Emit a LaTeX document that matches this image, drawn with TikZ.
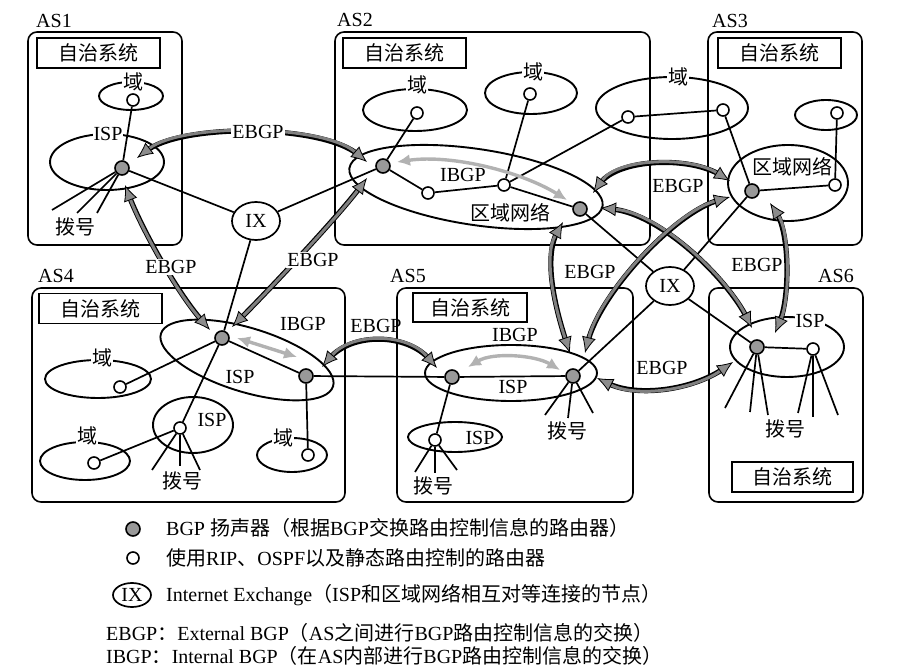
\documentclass[tikz,border=0pt]{standalone}
\usepackage{fontspec}
\setmainfont{Liberation Serif}
\newfontfamily\cjk{Noto Sans CJK SC}
\usetikzlibrary{arrows.meta,shapes.geometric,calc}
\newcommand{\zh}[1]{{\cjk #1}}
\tikzset{
  ebtip/.tip={Latex[length=16pt,width=14pt,color=black,fill=black!45,line width=0.8pt]},
  ibtip/.tip={Latex[length=13pt,width=12pt]}
}
\begin{document}
\begin{tikzpicture}[x=1pt,y=-1pt, font=\fontsize{20}{22}\selectfont,
  asbox/.style={line width=1.6pt, rounded corners=9pt},
  hdr/.style={draw, line width=1.5pt, minimum width=123pt, minimum height=30pt, inner sep=0pt, font=\fontsize{20}{22}\selectfont\cjk},
  ell/.style={line width=1.9pt},
  lbl/.style={fill=white, inner sep=1pt},
  txt/.style={inner sep=0pt},
  rt/.style={circle, draw, fill=white, line width=1.6pt, minimum size=12pt, inner sep=0pt},
  bgp/.style={circle, draw, fill=black!40, line width=1.6pt, minimum size=14pt, inner sep=0pt},
  ix/.style={ellipse, draw, fill=white, line width=1.7pt, minimum width=48pt, minimum height=38pt, inner sep=0pt},
  conn/.style={line width=1.7pt},
  ebgp/.style={draw=black!50, line width=3pt, ebtip-ebtip,
     preaction={draw=black, line width=5.2pt, arrows=-, shorten <=11pt, shorten >=11pt}},
  ibgp/.style={draw=black!30, line width=3.4pt, ibtip-ibtip}
]
\useasboundingbox (0,0) rectangle (922,671);

% AS boxes
\draw[asbox] (28,32) rectangle (182,245);
\draw[asbox] (335,32) rectangle (650,245);
\draw[asbox] (708,32) rectangle (862,245);
\draw[asbox] (32,288) rectangle (345,502);
\draw[asbox] (397,288) rectangle (633,502);
\draw[asbox] (709,288) rectangle (863,502);

% AS labels
\node[txt] (as1) at (54,21) {AS1};
\node[txt] (as2) at (355,20) {AS2};
\node[txt] (as3) at (730,21) {AS3};
\node[txt] (as4) at (56,276) {AS4};
\node[txt] (as5) at (408,276) {AS5};
\node[txt] (as6) at (836,276) {AS6};

% headers
\node[hdr] (h1) at (98.5,53) {自治系统};
\node[hdr] (h2) at (404.5,53) {自治系统};
\node[hdr] (h3) at (779.5,53) {自治系统};
\node[hdr] (h4) at (100.5,308.5) {自治系统};
\node[hdr, minimum width=114pt, minimum height=29pt] (h5) at (470,307.5) {自治系统};
\node[hdr, minimum width=121pt] (h6) at (792.5,477) {自治系统};

% ellipses
\draw[ell] (131,96) ellipse [x radius=32, y radius=14];
\draw[ell] (107,162) ellipse [x radius=57, y radius=28];
\draw[ell] (415,110) ellipse [x radius=52, y radius=21];
\draw[ell] (531,93) ellipse [x radius=46, y radius=21];
\draw[ell] (672,108) ellipse [x radius=76, y radius=31];
\draw[ell, rotate around={-8.5:(476,187)}] (476,187) ellipse [x radius=128, y radius=38];
\draw[ell] (826,115) ellipse [x radius=31, y radius=15];
\draw[ell] (788,183) ellipse [x radius=60, y radius=38];
\draw[ell, rotate around={-17:(247,360)}] (247,360) ellipse [x radius=90, y radius=32];
\draw[ell] (98,379) ellipse [x radius=53, y radius=19];
\draw[ell] (85,461) ellipse [x radius=45, y radius=19];
\draw[ell] (193,425) ellipse [x radius=40, y radius=28];
\draw[ell] (292,455) ellipse [x radius=35, y radius=17];
\draw[ell] (511,373) ellipse [x radius=86, y radius=28];
\draw[ell] (455,437) ellipse [x radius=47, y radius=15];
\draw[ell] (787,347) ellipse [x radius=57, y radius=30];

% ellipse labels
\node[lbl] (t1) at (133,82) {\zh{域}};
\node[lbl] (t2) at (108,134) {ISP};
\node[lbl] (t3) at (417,85) {\zh{域}};
\node[lbl] (t4) at (533,72) {\zh{域}};
\node[lbl] (t5) at (678,77) {\zh{域}};
\node[txt] (t6) at (463,175) {IBGP};
\node[txt] (t7) at (510,213) {\zh{区域网络}};
\node[txt] (t8) at (792,167) {\zh{区域网络}};
\node[txt] (t9) at (303,324) {IBGP};
\node[txt] (t10) at (240,377) {ISP};
\node[lbl] (t11) at (102,358) {\zh{域}};
\node[lbl] (t12) at (87,436) {\zh{域}};
\node[txt] (t13) at (212,420) {ISP};
\node[lbl] (t14) at (283,438) {\zh{域}};
\node[txt] (t15) at (515,335) {IBGP};
\node[txt] (t16) at (513,387) {ISP};
\node[txt] (t17) at (480,438) {ISP};
\node[lbl] (t18) at (810,321) {ISP};
\node[txt] (k1) at (75,227) {\zh{拨号}};
\node[txt] (k4) at (182,481) {\zh{拨号}};
\node[txt] (k5a) at (433,486) {\zh{拨号}};
\node[txt] (k5b) at (567,431) {\zh{拨号}};
\node[txt] (k6) at (785,429) {\zh{拨号}};

% routers
\node[bgp] (a1b) at (122,168) {};
\node[rt] (a1d) at (133,100) {};
\node[bgp] (a2bl) at (383,166) {};
\node[rt] (a2r1) at (428,193) {};
\node[rt] (a2r2) at (504,185) {};
\node[bgp] (a2br) at (580,209) {};
\node[rt] (a2d1) at (417,113) {};
\node[rt] (a2d2) at (530,94) {};
\node[rt] (a2d3l) at (628,117) {};
\node[rt] (a3d3r) at (723,110) {};
\node[bgp] (a3b) at (752,191) {};
\node[rt] (a3r) at (835,185) {};
\node[rt] (a3d) at (837,113) {};
\node[bgp] (a4bl) at (222,338) {};
\node[bgp] (a4br) at (306,376) {};
\node[rt] (a4d1) at (120,387) {};
\node[rt] (a4isp) at (180,428) {};
\node[rt] (a4d2) at (94,463) {};
\node[rt] (a4d3) at (308,455) {};
\node[bgp] (a5bl) at (452,377) {};
\node[bgp] (a5br) at (573,376) {};
\node[rt] (a5isp) at (435,440) {};
\node[bgp] (a6b) at (757,347) {};
\node[rt] (a6r) at (813,349) {};
\node[ix] (ix1) at (256,221) {IX};
\node[ix] (ix2) at (670,286) {IX};

% dial-up end points
\coordinate (d11) at (52,210); \coordinate (d12) at (77,213); \coordinate (d13) at (97,213);
\coordinate (d41) at (152,470); \coordinate (d42) at (180,466); \coordinate (d43) at (200,470);
\coordinate (d51) at (415,472); \coordinate (d52) at (435,473); \coordinate (d53) at (457,470);
\coordinate (d54) at (545,415); \coordinate (d55) at (568,418); \coordinate (d56) at (593,413);
\coordinate (d61) at (725,408); \coordinate (d62) at (750,412); \coordinate (d63) at (768,415);
\coordinate (d64) at (798,413); \coordinate (d65) at (813,417); \coordinate (d66) at (838,415);

% connectors
\draw[conn] (a1d) -- (a1b);
\draw[conn] (a1b) -- (d11); \draw[conn] (a1b) -- (d12); \draw[conn] (a1b) -- (d13);
\draw[conn] (a1b) -- (ix1);
\draw[conn] (a2bl) -- (ix1);
\draw[conn] (ix1) -- (a4bl);
\draw[conn] (a4bl) -- (a4isp);
\draw[conn] (a2d1) -- (a2bl);
\draw[conn] (a2bl) -- (a2r1);
\draw[conn] (a2r1) -- (a2r2);
\draw[conn] (a2r2) -- (a2br);
\draw[conn] (a2d2) -- (a2r2);
\draw[conn] (a2d3l) -- (a2r2);
\draw[conn] (a2d3l) -- (a3d3r);
\draw[conn] (a2br) -- (ix2);
\draw[conn] (a3d3r) -- (a3b);
\draw[conn] (a3b) -- (a3r);
\draw[conn] (a3r) -- (a3d);
\draw[conn] (a3b) -- (ix2);
\draw[conn] (a4bl) -- (a4br);
\draw[conn] (a4bl) -- (a4d1);
\draw[conn] (a4br) -- (a4d3);
\draw[conn] (a4isp) -- (a4d2);
\draw[conn] (a4isp) -- (d41); \draw[conn] (a4isp) -- (d42); \draw[conn] (a4isp) -- (d43);
\draw[conn] (a4br) -- (a5bl);
\draw[conn] (a5bl) -- (a5br);
\draw[conn] (a5bl) -- (a5isp);
\draw[conn] (a5isp) -- (d51); \draw[conn] (a5isp) -- (d52); \draw[conn] (a5isp) -- (d53);
\draw[conn] (a5br) -- (d54); \draw[conn] (a5br) -- (d55); \draw[conn] (a5br) -- (d56);
\draw[conn] (a5br) -- (ix2);
\draw[conn] (a6b) -- (a6r);
\draw[conn] (a6b) -- (ix2);
\draw[conn] (a6b) -- (d61); \draw[conn] (a6b) -- (d62); \draw[conn] (a6b) -- (d63);
\draw[conn] (a6r) -- (d64); \draw[conn] (a6r) -- (d65); \draw[conn] (a6r) -- (d66);

% IBGP arrows
\draw[ibgp] ($(a2bl)+(14,-4)$) .. controls +(55,-8) and +(-45,-28) .. ($(a2br)+(-13,-9)$);
\draw[ibgp] ($(a4bl)+(15,0)$) -- ($(a4br)+(-9,-19)$);
\draw[ibgp] ($(a5bl)+(16,-10)$) .. controls +(25,-15) and +(-25,-15) .. ($(a5br)+(-13,-6)$);

% EBGP arrows
\draw[ebgp] ($(a1b)+(15,-10)$) .. controls +(45,-35) and +(-45,-38) .. ($(a2bl)+(-16,-4)$);
\draw[ebgp] ($(a1b)+(3,17)$) .. controls +(15,40) and +(-35,-40) .. ($(a4bl)+(-12,-8)$);
\draw[ebgp] ($(a2bl)+(-16,12)$) .. controls +(-30,40) and +(35,-35) .. ($(a4bl)+(10,-11)$);
\draw[ebgp] ($(a4br)+(16,-9)$) .. controls +(30,-35) and +(-30,-35) .. ($(a5bl)+(-15,-9)$);
\draw[ebgp] ($(a2br)+(13,-16)$) .. controls +(25,-35) and +(-40,-25) .. ($(a3b)+(-22,-10)$);
\draw[ebgp] ($(a2br)+(20,-1)$) .. controls +(60,5) and +(-25,-50) .. ($(a6b)+(-5,-19)$);
\draw[ebgp] ($(a3b)+(-22,6)$) .. controls +(-55,15) and +(15,-60) .. ($(a5br)+(12,-23)$);
\draw[ebgp] ($(a2br)+(-17,13)$) .. controls +(-20,35) and +(-15,-45) .. ($(a5br)+(-3,-23)$);
\draw[ebgp] ($(a3b)+(18,12)$) .. controls +(20,30) and +(15,-35) .. ($(a6b)+(18,-14)$);
\draw[ebgp] ($(a5br)+(24,2)$) .. controls +(40,20) and +(-40,28) .. ($(a6b)+(-24,15)$);

% EBGP labels
\node[lbl] (e1) at (258,132) {EBGP};
\node[lbl] (e2) at (171,267) {EBGP};
\node[lbl] (e3) at (313,260) {EBGP};
\node[txt] (e4) at (376,326) {EBGP};
\node[txt] (e5) at (678,186) {EBGP};
\node[txt] (e8) at (590,272) {EBGP};
\node[txt] (e9) at (757,265) {EBGP};
\node[txt] (e10) at (662,368) {EBGP};

% legend
\node[bgp] (lgb) at (133,529) {};
\node[txt, anchor=west] (lg1) at (166,528) {BGP \zh{扬声器（根据}BGP\zh{交换路由控制信息的路由器）}};
\node[rt] (lgr) at (133,558) {};
\node[txt, anchor=west] (lg2) at (166,558) {\zh{使用}RIP\zh{、}OSPF\zh{以及静态路由控制的路由器}};
\node[ix, minimum width=38pt, minimum height=24pt] (lgx) at (132,595) {IX};
\node[txt, anchor=west] (lg3) at (166,595) {Internet Exchange\zh{（}ISP\zh{和区域网络相互对等连接的节点）}};
\node[txt, anchor=west] (lg4) at (106,633) {EBGP\zh{：}External BGP\zh{（}AS\zh{之间进行}BGP\zh{路由控制信息的交换）}};
\node[txt, anchor=west] (lg5) at (106,656) {IBGP\zh{：}Internal BGP\zh{（在}AS\zh{内部进行}BGP\zh{路由控制信息的交换）}};
\end{tikzpicture}
\end{document}
